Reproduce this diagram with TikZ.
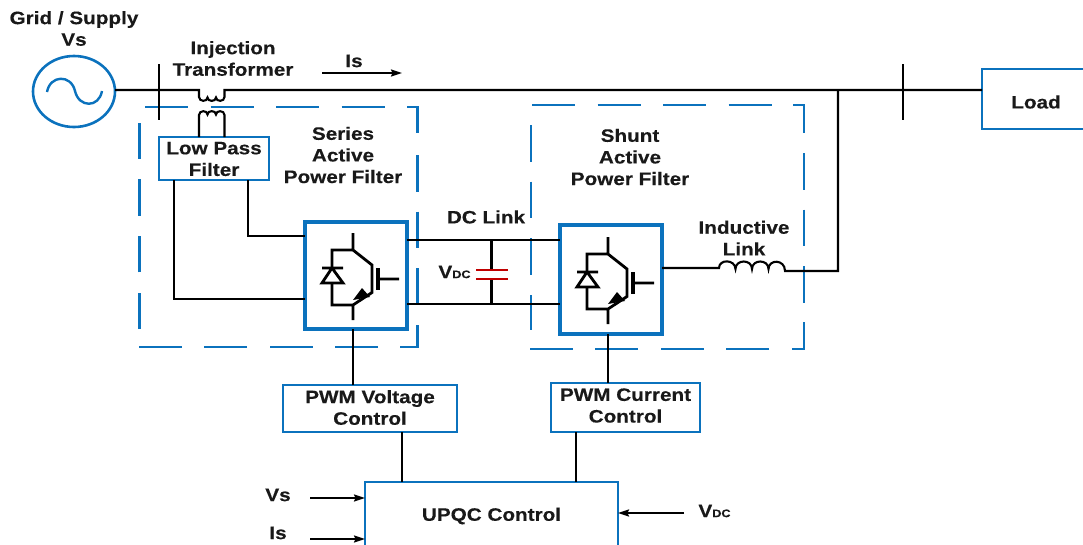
\documentclass[tikz,border=0pt]{standalone}
\usepackage{fontspec}
\setmainfont[FakeStretch=1.15,BoldFeatures={FakeBold=0.25}]{Liberation Sans}
\usetikzlibrary{arrows.meta,shapes.geometric}
\definecolor{bl}{HTML}{0B72BD}
\definecolor{capred}{HTML}{C00000}
\tikzset{
  x=1pt,y=-1pt,
  txt/.style={font=\fontsize{18}{21.6}\selectfont\bfseries,align=center,inner sep=0pt,outer sep=0pt,text=black!90},
  bluebox/.style={draw=bl,line width=2.8pt,fill=white,rectangle,inner sep=0pt,outer sep=0pt},
  swbox/.style={draw=bl,line width=4.4pt,fill=white,rectangle,inner sep=0pt,outer sep=0pt,minimum width=102pt},
  wire/.style={draw=black,line width=2.1pt},
  arr/.style={draw=black,line width=1.8pt,-{Stealth[length=11pt,width=7pt,inset=1.5pt]}},
  dashh/.style={draw=bl,line width=2.4pt,dash pattern=on 43pt off 22.5pt},
  dashv/.style={draw=bl,line width=2.4pt,dash pattern=on 36.5pt off 20.2pt},
  dashc/.style={draw=bl,line width=2.4pt},
  igbt/.pic={
    \draw[line width=2.8pt,line join=miter]
      (-3,-42.5) -- (-3,-25.5) -- (-24,-25.5) -- (-24,-7.5)
      (-24,7.5) -- (-24,29.5) -- (-3,29.5) -- (-3,44.5)
      (-3,-25.5) -- (16,-10.5) -- (16,17) -- (-3,29.5)
      (22,3.5) -- (43,3.5);
    \draw[line width=2.8pt,line join=miter] (-34,-7.5) -- (-13,-7.5) (-24,-7.5) -- (-34,7.5) -- (-13,7.5) -- cycle;
    \draw[line width=3.6pt] (22,-7.5) -- (22,14.5);
    \fill (6,12.5) -- (-3,24.5) -- (14,21.5) -- cycle;
  }
}
\begin{document}
\begin{tikzpicture}
\useasboundingbox (0,0) rectangle (1083,544);
\clip (0,0) rectangle (1083,544);
% dashed enclosure: series filter
\draw[dashh] (145,107) -- (407,107);
\draw[dashc] (407,107) -- (417.5,107) -- (417.5,133);
\draw[dashv] (417.5,155) -- (417.5,326);
\draw[dashc] (417.5,326) -- (417.5,347) -- (400,347);
\draw[dashh] (378,347) -- (139,347);
\draw[dashv] (139.5,329) -- (139.5,123);
% dashed enclosure: shunt filter
\draw[dashh] (532,105) -- (793,105);
\draw[dashc] (793,105) -- (804,105) -- (804,133);
\draw[dashv] (804,153) -- (804,322);
\draw[dashc] (804,322) -- (804,349) -- (792,349);
\draw[dashh] (769,349) -- (530,349);
\draw[dashv] (531,125) -- (531,330);
% source
\node[draw=bl,line width=2.6pt,ellipse,minimum width=82pt,minimum height=71pt,inner sep=0pt,outer sep=0pt] (src) at (74,91.5) {};
\draw[bl,line width=2.4pt] (47,92) .. controls (50,75) and (71,74) .. (75,91) .. controls (79,108) and (99,108) .. (102,91);
% boxes
\node[bluebox,minimum width=110pt,minimum height=43pt] (lpf) at (214,158.5) {};
\node[bluebox,minimum width=174pt,minimum height=47pt] (pwmv) at (370,408.5) {};
\node[bluebox,minimum width=149pt,minimum height=49pt] (pwmc) at (625.5,407.5) {};
\node[bluebox,minimum width=253pt,minimum height=100pt] (upqc) at (491.5,532) {};
\node[bluebox,minimum width=120pt,minimum height=60pt] (load) at (1042,99) {};
\node[swbox,minimum height=107pt] (sw1) at (356,275.5) {};
\node[swbox,minimum height=109pt] (sw2) at (611,279.5) {};
\pic at (sw1.center) {igbt};
\pic at (sw2.center) {igbt};
% named points
\coordinate (ta) at (199,90);
\coordinate (tb) at (224.5,90);
\coordinate (tc) at (199,115);
\coordinate (td) at (224.5,115);
\coordinate (la) at (719,268);
\coordinate (lb) at (785,271);
\coordinate (junc) at (838,271);
\coordinate (bus) at (838,90);
\coordinate (b1t) at (159,64);
\coordinate (b1b) at (159,120);
\coordinate (b2t) at (903,64);
\coordinate (b2b) at (903,120);
\coordinate (dct) at (491.5,240);
\coordinate (dcb) at (491.5,304);
\coordinate (capt) at (491.5,270);
\coordinate (capb) at (491.5,279);
\coordinate (capta) at (476,270);
\coordinate (captb) at (508,270);
\coordinate (capba) at (476,279);
\coordinate (capbb) at (508,279);
% main line and transformer
\draw[wire] (src.east |- ta) -- (ta) -- (199,97)
  .. controls (199,102) and (207.5,102) .. (207.5,97.5)
  .. controls (207.5,102) and (216,102) .. (216,97.5)
  .. controls (216,102) and (224.5,102) .. (224.5,97) -- (tb) -- ([yshift=9pt]load.west);
\draw[wire] ([xshift=-15pt]lpf.north) -- (tc)
  .. controls (199,110) and (207.5,110) .. (207.5,114.5)
  .. controls (207.5,110) and (216,110) .. (216,114.5)
  .. controls (216,110) and (224.5,110) .. (td) -- ([xshift=10.5pt]lpf.north);
\draw[wire] (b1t) -- (b1b);
\draw[wire] (b2t) -- (b2b);
% filter to converter
\draw[wire] ([xshift=-40pt]lpf.south) |- ([yshift=-23.5pt]sw1.west);
\draw[wire] ([xshift=34pt]lpf.south) |- ([yshift=39.5pt]sw1.west);
% dc link
\draw[wire] (sw1.east |- dct) -- (sw2.west |- dct);
\draw[wire] (sw1.east |- dcb) -- (sw2.west |- dcb);
\draw[wire] (dct) -- (capt);
\draw[wire] (capb) -- (dcb);
\draw[capred,line width=2pt] (capta) -- (captb);
\draw[capred,line width=2pt] (capba) -- (capbb);
% inductive link
\draw[wire] ([yshift=11.5pt]sw2.east) -- (la)
  .. controls (719,259) and (735,259) .. (735.5,269)
  .. controls (735.5,259) and (752,259) .. (752,269)
  .. controls (752,259) and (768.5,259) .. (768.5,269)
  .. controls (768.5,259) and (785,259) .. (lb) -- (junc) -- (bus);
% control links
\draw[wire] (sw1.south -| 353,0) -- (pwmv.north -| 353,0);
\draw[wire] (sw2.south -| 608,0) -- (pwmc.north -| 608,0);
\draw[wire] ([xshift=32pt]pwmv.south) -- (upqc.north -| 402,0);
\draw[wire] ([xshift=-49.5pt]pwmc.south) -- (upqc.north -| 576,0);
% arrows
\coordinate (isa) at (322,73);
\coordinate (isb) at (402,73);
\coordinate (vsin) at (310,498);
\coordinate (isin) at (310,539);
\coordinate (vdcin) at (684,513);
\draw[arr] (isa) -- (isb);
\draw[arr] (vsin) -- (upqc.west |- vsin);
\draw[arr] (isin) -- (upqc.west |- isin);
\draw[arr] (vdcin) -- (upqc.east |- vdcin);
% labels
\node[txt] (t1) at (74,28.5) {Grid / Supply\\Vs};
\node[txt] (t2) at (233,58.5) {Injection\\Transformer};
\node[txt] (t3) at (354,61) {Is};
\node[txt] (t4) at (343,155) {Series\\Active\\Power Filter};
\node[txt] (t5) at (630,157) {Shunt\\Active\\Power Filter};
\node[txt] (t6) at (486,217) {DC Link};
\node[txt] (t7) at (744,238) {Inductive\\Link};
\node[txt] (t8) at (1036,102) {Load};
\node[txt] (t9) at (491.5,516) {UPQC Control};
\node[txt] (t10) at (278,495) {Vs};
\node[txt] (t11) at (278,533) {Is};
\node[txt] (t12) at (454.5,272) {V{\fontsize{11}{11}\selectfont DC}};
\node[txt] (t13) at (714.5,511) {V{\fontsize{11}{11}\selectfont DC}};
\node[txt] (t14) at ([yshift=-0.5pt]lpf.center) {Low Pass\\Filter};
\node[txt] (t15) at ([yshift=1pt]pwmv.center) {PWM Voltage\\Control};
\node[txt] (t16) at ([yshift=2pt]pwmc.center) {PWM Current\\Control};
\end{tikzpicture}
\end{document}
